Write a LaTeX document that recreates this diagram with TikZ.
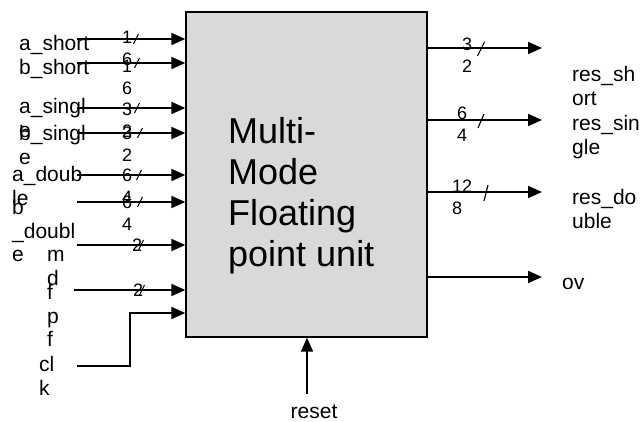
\documentclass[tikz,border=0pt]{standalone}
\usepackage{fontspec}
\setmainfont{Liberation Sans}
\usetikzlibrary{arrows.meta}
\definecolor{boxgray}{RGB}{217,217,217}
\begin{document}
\begin{tikzpicture}[x=1pt, y=-1pt, >={Triangle[length=14pt, width=12pt]},
    unit/.style={draw, fill=boxgray, line width=1.3pt, minimum width=241pt, minimum height=325pt, inner sep=0pt},
    title/.style={font=\fontsize{36}{41}\selectfont, align=left, inner sep=0pt, anchor=base west},
    sig/.style={font=\fontsize{21}{23.5}\selectfont, align=left, inner sep=0pt, anchor=base west},
    width/.style={font=\fontsize{18}{22}\selectfont, align=left, inner sep=0pt, anchor=base west},
    wire/.style={->, line width=1.8pt},
    busmark/.style={line width=1.1pt}]
    \useasboundingbox (0,0) rectangle (641,422);

    % Block (Textanker: letzte Zeile)
    \node[unit] (fpu) at (306.5, 174.5) {};
    \node[title] (name) at (228, 267) {Multi-\\Mode\\Floating\\point unit};

    % Eingaenge
    \coordinate (ashort) at (77, 39);
    \coordinate (bshort) at (77, 63);
    \coordinate (asingle) at (77, 108);
    \coordinate (bsingle) at (77, 133);
    \coordinate (adouble) at (77, 175);
    \coordinate (bdouble) at (77, 202);
    \coordinate (md) at (77, 245);
    \coordinate (fpf) at (74, 290);
    \coordinate (clk) at (77, 366);
    \coordinate (clkrow) at (130, 313);
    \coordinate (reset) at (307, 394);

    % Ausgaenge
    \coordinate (resshort) at (542, 48);
    \coordinate (ressingle) at (542, 120);
    \coordinate (resdouble) at (542, 192);
    \coordinate (ov) at (542, 277);

    % Pfeile
    \draw[wire] (ashort) -- (ashort -| fpu.west);
    \draw[wire] (bshort) -- (bshort -| fpu.west);
    \draw[wire] (asingle) -- (asingle -| fpu.west);
    \draw[wire] (bsingle) -- (bsingle -| fpu.west);
    \draw[wire] (adouble) -- (adouble -| fpu.west);
    \draw[wire] (bdouble) -- (bdouble -| fpu.west);
    \draw[wire] (md) -- (md -| fpu.west);
    \draw[wire] (fpf) -- (fpf -| fpu.west);
    \draw[wire] (clk) -| (clkrow) -- (clkrow -| fpu.west);
    \draw[wire] (reset) -- (reset |- fpu.south);
    \draw[wire] (resshort -| fpu.east) -- (resshort);
    \draw[wire] (ressingle -| fpu.east) -- (ressingle);
    \draw[wire] (resdouble -| fpu.east) -- (resdouble);
    \draw[wire] (ov -| fpu.east) -- (ov);

    % Busbreiten
    \draw[busmark] (136, 39) ++(-2.5, 5) -- ++(5, -10);
    \draw[busmark] (137, 63) ++(-2.5, 5) -- ++(5, -10);
    \draw[busmark] (137, 108) ++(-2.5, 5) -- ++(5, -10);
    \draw[busmark] (140, 133) ++(-2.5, 5) -- ++(5, -10);
    \draw[busmark] (139, 175) ++(-2.5, 5) -- ++(5, -10);
    \draw[busmark] (140, 202) ++(-2.5, 5) -- ++(5, -10);
    \draw[busmark] (141, 245) ++(-2.5, 5) -- ++(5, -10);
    \draw[busmark] (142, 290) ++(-2.5, 5) -- ++(5, -10);
    \draw[busmark] (481, 49) ++(-3.5, 7) -- ++(7, -14);
    \draw[busmark] (481, 121) ++(-3, 7) -- ++(6, -14);
    \draw[busmark] (486, 193) ++(-2, 8) -- ++(4, -16);

    \node[width] (wash) at (122, 66) {1\\6};
    \node[width] (wbsh) at (122, 95) {1\\6};
    \node[width] (wasi) at (122, 138) {3\\2};
    \node[width] (wbsi) at (122, 162) {3\\2};
    \node[width] (wado) at (122, 204) {6\\4};
    \node[width] (wbdo) at (122, 231) {6\\4};
    \node[width] (wmd) at (132, 252) {2};
    \node[width] (wfpf) at (133, 297) {2};
    \node[width] (wrsh) at (462, 73) {3\\2};
    \node[width] (wrsi) at (457, 142) {6\\4};
    \node[width] (wrdo) at (452, 215) {12\\8};

    % Signalnamen
    \node[sig] (lash) at (19, 51) {a\_short};
    \node[sig] (lbsh) at (19, 75) {b\_short};
    \node[sig] (lasi) at (19, 137.5) {a\_singl\\e};
    \node[sig] (lbsi) at (19, 164.5) {b\_singl\\e};
    \node[sig] (lado) at (12, 205.5) {a\_doub\\le};
    \node[sig] (lbdo) at (12, 262) {b\\\_doubl\\e};
    \node[sig] (lmd) at (47, 285.5) {m\\d};
    \node[sig] (lfpf) at (47, 347) {f\\p\\f};
    \node[sig] (lclk) at (39, 395.5) {cl\\k};
    \node[sig, anchor=base] (lreset) at (314, 419) {reset};
    \node[sig] (lrsh) at (572, 105.5) {res\_sh\\ort};
    \node[sig] (lrsi) at (572, 154.5) {res\_sin\\gle};
    \node[sig] (lrdo) at (572, 228.5) {res\_do\\uble};
    \node[sig] (lov) at (562, 290) {ov};

\end{tikzpicture}
\end{document}
